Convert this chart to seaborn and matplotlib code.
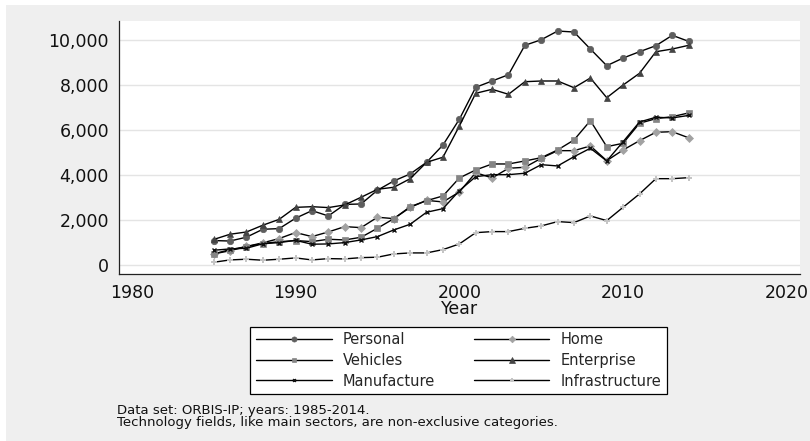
import matplotlib
matplotlib.use("Agg")
import matplotlib.pyplot as plt
import seaborn as sns
import pandas as pd
from matplotlib.ticker import FuncFormatter
from matplotlib.patches import Rectangle
from matplotlib.lines import Line2D

years = list(range(1985, 2015))
personal = [1100, 1080, 1250, 1600, 1630, 2090, 2425, 2190, 2700, 2720,
            3330, 3740, 4050, 4565, 5330, 6470, 7885, 8164, 8443, 9743,
            9991, 10376, 10332, 9580, 8841, 9181, 9460, 9726, 10186, 9920]
home = [510, 650, 840, 1000, 1190, 1455, 1276, 1482, 1717, 1673,
        2133, 2071, 2570, 2880, 2810, 3252, 4106, 3872, 4300, 4345,
        4743, 5080, 5080, 5288, 4637, 5111, 5522, 5894, 5920, 5650]
vehicles = [510, 700, 832, 970, 1050, 1100, 1055, 1158, 1128, 1246,
            1646, 2071, 2600, 2867, 3075, 3872, 4226, 4491, 4491, 4624,
            4770, 5111, 5553, 6407, 5257, 5407, 6292, 6496, 6585, 6750]
enterprise = [1150, 1380, 1480, 1780, 2040, 2570, 2600, 2560, 2677, 3017,
              3370, 3460, 3840, 4565, 4790, 6170, 7620, 7796, 7575, 8133,
              8164, 8164, 7867, 8296, 7425, 7987, 8504, 9460, 9580, 9743]
manufacture = [672, 730, 760, 960, 1009, 1110, 938, 951, 1010, 1128,
               1276, 1571, 1823, 2354, 2513, 3310, 3929, 4018, 4018, 4080,
               4460, 4403, 4814, 5186, 4624, 5478, 6350, 6558, 6530, 6640]
infrastructure = [140, 243, 274, 230, 274, 332, 243, 301, 288, 345,
                  363, 509, 553, 553, 700, 951, 1450, 1497, 1497, 1644,
                  1748, 1940, 1895, 2190, 1983, 2575, 3164, 3840, 3840, 3885]

series_names = ["Personal", "Home", "Vehicles", "Enterprise", "Manufacture", "Infrastructure"]
series_values = [personal, home, vehicles, enterprise, manufacture, infrastructure]
x_ticks = [1980, 1990, 2000, 2010, 2020]
y_ticks = [0, 2000, 4000, 6000, 8000, 10000]
x_label = "Year"
notes = ["Data set: ORBIS-IP; years: 1985-2014.",
         "Technology fields, like main sectors, are non-exclusive categories."]

styles = {
    "Personal": dict(marker="o", mc="#5e5e5e", ms=4.6, mew=0.5),
    "Home": dict(marker="D", mc="#a2a2a2", ms=4.2, mew=0.5),
    "Vehicles": dict(marker="s", mc="#858585", ms=4.2, mew=0.5),
    "Enterprise": dict(marker="^", mc="#444444", ms=4.8, mew=0.5),
    "Manufacture": dict(marker="x", mc="#111111", ms=2.6, mew=1.0),
    "Infrastructure": dict(marker="+", mc="#c4c4c4", ms=4.0, mew=1.4),
}

sns.set_theme(style="white")
plt.rcParams["font.family"] = ["DejaVu Sans"]

W, H = 810, 441
fig = plt.figure(figsize=(W / 100, H / 100), dpi=100, facecolor="white")
fig.patches.append(Rectangle((6 / W, 0), 1, 1 - 5 / H, transform=fig.transFigure,
                             facecolor="#efefef", edgecolor="none", zorder=-10))
ax = fig.add_axes([118.7 / W, 1 - 274 / H, (800 - 118.7) / W, (274 - 21) / H])
ax.set_facecolor("white")

df = pd.DataFrame({"year": years})
for name, vals in zip(series_names, series_values):
    df[name] = vals

handle_map = {}
for name in series_names:
    st = styles[name]
    sns.lineplot(data=df, x="year", y=name, ax=ax, color="black", linewidth=1.0,
                 marker=st["marker"], markersize=st["ms"], markerfacecolor=st["mc"],
                 markeredgecolor=st["mc"], markeredgewidth=st["mew"])
    handle_map[name] = Line2D([], [], color="black", linewidth=1.0, marker=st["marker"],
                              markersize=st["ms"] * 0.8, markerfacecolor=st["mc"],
                              markeredgecolor=st["mc"], markeredgewidth=st["mew"],
                              label=name)
if ax.get_legend() is not None:
    ax.get_legend().remove()

ax.set_xlim(1979.2, 2020.8)
ax.set_ylim(-380, 10820)
ax.set_xticks(x_ticks)
ax.set_yticks(y_ticks)
ax.yaxis.set_major_formatter(FuncFormatter(lambda v, p: f"{v:,.0f}"))
ax.grid(axis="y", color="#e4e4e4", linewidth=1.0)
ax.grid(axis="x", visible=False)
for s in ["top", "right"]:
    ax.spines[s].set_visible(False)
for s in ["left", "bottom"]:
    ax.spines[s].set_color("#222222")
    ax.spines[s].set_linewidth(0.9)
ax.tick_params(axis="both", direction="out", length=5, width=0.9, color="#222222",
               labelsize=12.5, pad=2, labelcolor="#111111")
ax.set_ylabel("")
ax.set_xlabel(x_label, fontsize=12.5, labelpad=-1, color="#111111")

# legend filled row-wise (two columns) like the reference
col_order = series_names[0::2] + series_names[1::2]
leg = fig.legend(handles=[handle_map[n] for n in col_order], labels=col_order, ncol=2,
                 loc="center", bbox_to_anchor=(250 / W, 1 - 395 / H, 417 / W, 69 / H),
                 mode="expand", fontsize=10.5, frameon=True, fancybox=False,
                 edgecolor="black", facecolor="white", framealpha=1,
                 handlelength=5.2, handletextpad=0.75, labelspacing=0.38,
                 borderpad=0.4, numpoints=1, borderaxespad=0)
leg.get_frame().set_linewidth(0.9)

fig.text(117.3 / W, 1 - 410.7 / H, notes[0], fontsize=9.5, va="center", ha="left", color="#111111")
fig.text(117.3 / W, 1 - 422.7 / H, notes[1], fontsize=9.5, va="center", ha="left", color="#111111")

fig.savefig("out.png", dpi=100, facecolor=fig.get_facecolor())
